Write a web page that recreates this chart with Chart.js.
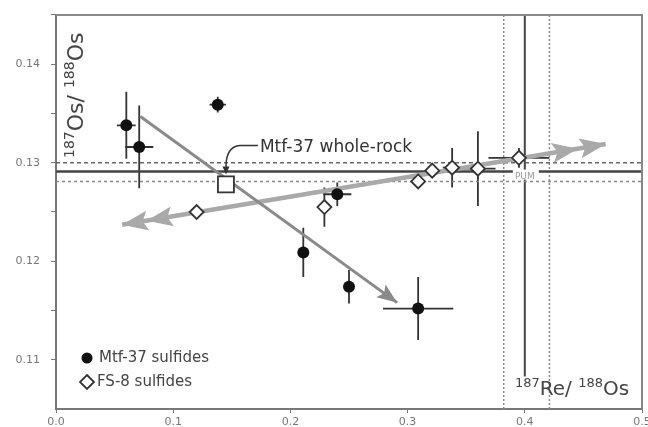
<!DOCTYPE html>
<html>
<head>
<meta charset="utf-8">
<script src="https://cdn.jsdelivr.net/npm/chart.js@4.4.1/dist/chart.umd.min.js"></script>
<style>
  html, body { margin: 0; padding: 0; background: #fff; }
  #wrap { width: 648px; height: 427px; }
</style>
</head>
<body>
<div id="wrap"><canvas id="c" width="648" height="427"></canvas></div>
<script>
// Mtf-37 sulfides (filled dots) with 2 sigma errors
const mtfX = [0.060, 0.071, 0.138, 0.240, 0.211, 0.250, 0.309];
const mtfY = [0.1338, 0.1316, 0.1359, 0.1268, 0.1209, 0.1174, 0.1152];
const mtfXErr = [0.008, 0.012, 0.007, 0.012, 0.004, 0.003, 0.030];
const mtfYErr = [0.0034, 0.0042, 0.0008, 0.0012, 0.0025, 0.0017, 0.0032];

// FS-8 sulfides (open diamonds)
const fsX = [0.120, 0.229, 0.309, 0.321, 0.338, 0.360, 0.395];
const fsY = [0.1250, 0.1255, 0.1281, 0.1292, 0.1295, 0.1294, 0.1305];
const fsXErr = [0, 0.004, 0.004, 0.004, 0.008, 0.015, 0.026];
const fsYErr = [0, 0.002, 0.0004, 0.0006, 0.002, 0.0038, 0.001];

// whole rock
const wrX = [0.145];
const wrY = [0.1278];

// trend lines (start, end)
const mtfLineX = [0.072, 0.291];
const mtfLineY = [0.1347, 0.1158];
const fsLineX = [0.0564, 0.469];
const fsLineY = [0.1237, 0.1319];

// PUM reference values: low, mean, high
const pumOs = [0.1281, 0.1291, 0.1300];
const pumRe = [0.382, 0.400, 0.421];
const reLineBottom = 0.1083;

const xTicks = [0.0, 0.1, 0.2, 0.3, 0.4, 0.5];
const yTicks = [0.11, 0.12, 0.13, 0.14];

const FONT = "'DejaVu Sans', sans-serif";

function pts(xs, ys) {
  return xs.map((x, i) => ({ x: x, y: ys[i] }));
}

function refLine(data, color, width, dash) {
  return {
    data: data, showLine: true, pointRadius: 0, borderColor: color,
    borderWidth: width, borderDash: dash || [], order: 5, fill: false
  };
}

function arrowHead(ctx, x1, y1, x2, y2, len, half, color) {
  var a = Math.atan2(y2 - y1, x2 - x1);
  ctx.save();
  ctx.translate(x2, y2);
  ctx.rotate(a);
  ctx.fillStyle = color;
  ctx.beginPath();
  ctx.moveTo(0, 0);
  ctx.lineTo(-len, -half);
  ctx.lineTo(-len * 0.8, 0);
  ctx.lineTo(-len, half);
  ctx.closePath();
  ctx.fill();
  ctx.restore();
}

// draws text made of [text, size, raise] pieces
function richText(ctx, parts, x, y) {
  parts.forEach(function (p) {
    ctx.font = p[1] + "px " + FONT;
    ctx.fillText(p[0], x, y - p[2]);
    x += ctx.measureText(p[0]).width;
  });
}

const overlay = {
  id: "overlay",
  beforeDatasetsDraw(chart) {
    const ctx = chart.ctx, xs = chart.scales.x, ys = chart.scales.y;
    ctx.save();
    ctx.strokeStyle = "#333";
    ctx.lineWidth = 1.8;
    function bars(X, Y, XE, YE) {
      X.forEach(function (x, i) {
        var px = xs.getPixelForValue(x), py = ys.getPixelForValue(Y[i]);
        ctx.beginPath();
        if (XE[i] > 0) {
          ctx.moveTo(xs.getPixelForValue(x - XE[i]), py);
          ctx.lineTo(xs.getPixelForValue(x + XE[i]), py);
        }
        if (YE[i] > 0) {
          ctx.moveTo(px, ys.getPixelForValue(Y[i] - YE[i]));
          ctx.lineTo(px, ys.getPixelForValue(Y[i] + YE[i]));
        }
        ctx.stroke();
      });
    }
    bars(mtfX, mtfY, mtfXErr, mtfYErr);
    bars(fsX, fsY, fsXErr, fsYErr);
    ctx.restore();
  },
  afterDatasetsDraw(chart) {
    const ctx = chart.ctx, xs = chart.scales.x, ys = chart.scales.y;
    const a = chart.chartArea;
    ctx.save();

    // arrow heads on trend lines
    var m0x = xs.getPixelForValue(mtfLineX[0]), m0y = ys.getPixelForValue(mtfLineY[0]);
    var m1x = xs.getPixelForValue(mtfLineX[1]), m1y = ys.getPixelForValue(mtfLineY[1]);
    arrowHead(ctx, m0x, m0y, m1x, m1y, 20, 8, "#8a8a8a");

    var f0x = xs.getPixelForValue(fsLineX[0]), f0y = ys.getPixelForValue(fsLineY[0]);
    var f1x = xs.getPixelForValue(fsLineX[1]), f1y = ys.getPixelForValue(fsLineY[1]);
    var d = Math.hypot(f1x - f0x, f1y - f0y), ux = (f1x - f0x) / d, uy = (f1y - f0y) / d;
    var g = "#a9a9a9";
    arrowHead(ctx, f1x, f1y, f0x, f0y, 26, 10, g);
    arrowHead(ctx, f1x, f1y, f0x + ux * 25, f0y + uy * 25, 26, 10, g);
    arrowHead(ctx, f0x, f0y, f1x, f1y, 26, 10, g);
    arrowHead(ctx, f0x, f0y, f1x - ux * 28, f1y - uy * 28, 26, 10, g);

    // whole-rock annotation
    var wx = xs.getPixelForValue(wrX[0]), wy = ys.getPixelForValue(wrY[0]);
    ctx.strokeStyle = "#333";
    ctx.lineWidth = 1.5;
    ctx.beginPath();
    ctx.moveTo(wx + 32, wy - 39);
    ctx.lineTo(wx + 14, wy - 39);
    ctx.quadraticCurveTo(wx, wy - 38, wx, wy - 17);
    ctx.stroke();
    ctx.fillStyle = "#333";
    ctx.beginPath();
    ctx.moveTo(wx, wy - 10);
    ctx.lineTo(wx - 3.5, wy - 18);
    ctx.lineTo(wx + 3.5, wy - 18);
    ctx.closePath();
    ctx.fill();
    ctx.fillStyle = "#333";
    ctx.textBaseline = "alphabetic";
    ctx.font = "17px " + FONT;
    ctx.fillText("Mtf-37 whole-rock", wx + 34, wy - 32);

    // PUM label
    var px = xs.getPixelForValue(pumRe[1]), py = ys.getPixelForValue(pumOs[1]);
    ctx.fillStyle = "#fff";
    ctx.fillRect(px - 12, py - 2, 26, 10);
    ctx.fillStyle = "#999";
    ctx.font = "9px " + FONT;
    ctx.textAlign = "center";
    ctx.fillText("PUM", px, py + 7);
    ctx.textAlign = "left";

    // legend
    ctx.fillStyle = "#111";
    ctx.beginPath();
    ctx.arc(a.left + 31, a.top + 343, 5.5, 0, Math.PI * 2);
    ctx.fill();
    ctx.fillStyle = "#fff";
    ctx.strokeStyle = "#333";
    ctx.lineWidth = 1.8;
    ctx.beginPath();
    var lx = a.left + 31, ly = a.top + 367;
    ctx.moveTo(lx, ly - 7); ctx.lineTo(lx + 7, ly); ctx.lineTo(lx, ly + 7); ctx.lineTo(lx - 7, ly);
    ctx.closePath(); ctx.fill(); ctx.stroke();
    ctx.fillStyle = "#444";
    ctx.font = "15px " + FONT;
    ctx.textBaseline = "middle";
    ctx.fillText("Mtf-37 sulfides", a.left + 43, a.top + 343);
    ctx.fillText("FS-8 sulfides", a.left + 41, a.top + 367);
    ctx.textBaseline = "alphabetic";

    // axis titles
    ctx.fillStyle = "#444";
    richText(ctx, [["187", 13, 8], ["Re/ ", 20, 0], ["188", 13, 8], ["Os", 20, 0]], a.right - 127, a.bottom - 14);
    ctx.save();
    ctx.translate(a.left + 27, a.top + 143);
    ctx.rotate(-Math.PI / 2);
    richText(ctx, [["187", 14, 9], ["Os/ ", 22, 0], ["188", 14, 9], ["Os", 22, 0]], 0, 0);
    ctx.restore();

    // frame top and right
    ctx.strokeStyle = "#888";
    ctx.lineWidth = 2;
    ctx.beginPath();
    ctx.moveTo(a.left, a.top);
    ctx.lineTo(a.right, a.top);
    ctx.lineTo(a.right, a.bottom);
    ctx.stroke();
    ctx.restore();
  }
};

const config = {
  type: "scatter",
  data: {
    datasets: [
      {
        label: "Mtf-37 sulfides", data: pts(mtfX, mtfY), pointStyle: "circle",
        pointRadius: 6, backgroundColor: "#111", borderColor: "#111", borderWidth: 0, order: 1
      },
      {
        label: "FS-8 sulfides", data: pts(fsX, fsY), pointStyle: "rectRot",
        pointRadius: 7, backgroundColor: "#fff", borderColor: "#333", borderWidth: 1.8, order: 1
      },
      {
        label: "Mtf-37 whole-rock", data: pts(wrX, wrY), pointStyle: "rect",
        pointRadius: 11.3, backgroundColor: "#fff", borderColor: "#333", borderWidth: 1.8, order: 0
      },
      refLine(pts(mtfLineX, mtfLineY), "#8a8a8a", 3),
      refLine(pts(fsLineX, fsLineY), "#a9a9a9", 4.5),
      refLine(pts([0, 0.5], [pumOs[1], pumOs[1]]), "#444", 2.5),
      refLine(pts([0, 0.5], [pumOs[2], pumOs[2]]), "#666", 1.5, [4, 3]),
      refLine(pts([0, 0.5], [pumOs[0], pumOs[0]]), "#888", 1.5, [3, 3]),
      refLine(pts([pumRe[1], pumRe[1]], [reLineBottom, 0.145]), "#444", 2),
      refLine(pts([pumRe[0], pumRe[0]], [0.105, 0.145]), "#888", 1.5, [2, 2]),
      refLine(pts([pumRe[2], pumRe[2]], [0.105, 0.145]), "#888", 1.5, [2, 2])
    ]
  },
  options: {
    responsive: false,
    animation: false,
    layout: { autoPadding: false, padding: { top: 15, right: 6, left: 0, bottom: 0 } },
    plugins: { legend: { display: false }, tooltip: { enabled: false } },
    scales: {
      x: {
        type: "linear", min: 0, max: 0.5,
        afterBuildTicks: function (s) { s.ticks = xTicks.map(v => ({ value: v })); },
        afterFit: function (s) { s.height = 18; s.paddingLeft = 0; s.paddingRight = 0; },
        border: { color: "#777", width: 2 },
        grid: { drawOnChartArea: false, tickLength: 4, color: "#777" },
        ticks: {
          padding: 3, color: "#777", font: { family: FONT, size: 11 },
          callback: v => v.toFixed(1)
        }
      },
      y: {
        type: "linear", min: 0.105, max: 0.145,
        afterBuildTicks: function (s) {
          var t = [];
          for (var i = 0; i < yTicks.length; i++) {
            t.push({ value: yTicks[i] });
            t.push({ value: yTicks[i] + 0.005 });
          }
          s.ticks = t;
        },
        afterFit: function (s) { s.width = 56; s.paddingTop = 0; s.paddingBottom = 0; },
        border: { color: "#777", width: 2 },
        grid: { drawOnChartArea: false, tickLength: 5, color: "#777" },
        ticks: {
          padding: 11, color: "#777", font: { family: FONT, size: 11 },
          callback: v => (yTicks.some(t => Math.abs(t - v) < 1e-9) ? v.toFixed(2) : "")
        }
      }
    }
  },
  plugins: [overlay]
};

new Chart(document.getElementById("c"), config);
</script>
</body>
</html>
